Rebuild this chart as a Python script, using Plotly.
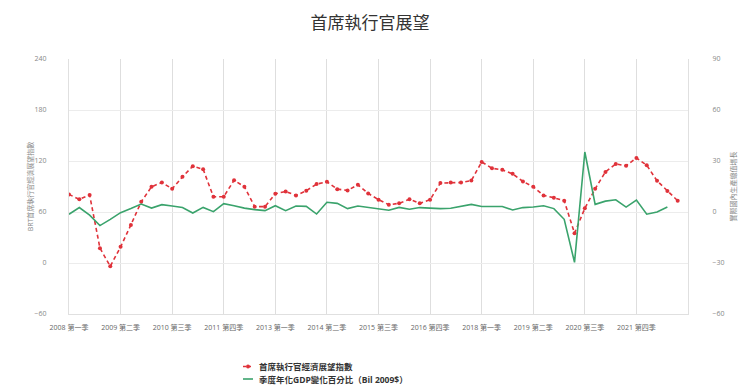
import plotly.graph_objects as go

years = list(range(2008, 2024))
quarter_names = ["第一季", "第二季", "第三季", "第四季"]
categories = [f"{y} {q}" for y in years for q in quarter_names][:61]

ceo_index = [80.7, 74.9, 79.9, 17.5, -3.9, 19.0, 44.8, 72.0, 89.7, 94.7,
             87.3, 101.4, 113.8, 110.3, 78.0, 78.0, 97.4, 89.7, 66.3, 66.3,
             81.5, 84.2, 79.5, 85.0, 92.8, 95.5, 86.9, 85.4, 92.0, 81.9,
             74.5, 68.6, 70.2, 74.9, 70.2, 74.5, 94.0, 94.7, 94.7, 97.0,
             118.9, 111.5, 109.6, 104.9, 95.9, 89.7, 79.5, 76.8, 73.3, 35.1,
             64.3, 87.3, 107.2, 116.6, 114.3, 123.6, 115.0, 96.7, 84.6, 73.3]

gdp_change = [-1.3, 2.6, -1.9, -8.0, -4.3, -0.4, 2.0, 4.7, 2.3, 4.3,
              3.5, 2.6, -0.6, 2.7, 0.2, 4.9, 3.7, 2.3, 1.4, 0.8,
              3.7, 0.8, 3.5, 3.3, -1.2, 5.7, 5.1, 2.0, 3.5, 2.6,
              1.6, 1.0, 2.7, 1.6, 2.6, 2.3, 2.0, 2.2, 3.5, 4.5,
              3.2, 3.2, 3.2, 1.2, 2.6, 2.9, 3.7, 2.0, -4.3, -29.6,
              35.3, 4.5, 6.4, 7.2, 2.9, 7.0, -1.3, 0.0, 2.9]

tick_labels = categories[0:56:5]

series_names = ["首席執行官經濟展望指數", "季度年化GDP變化百分比（Bil 2009$）"]
title_text = "首席執行官展望"
left_title = "BRT首席執行官經濟展望指數"
right_title = "實際國內生產總值增長"

FONT = "Open Sans, Noto Sans CJK TC, sans-serif"
RED = "#e0323a"
GREEN = "#3aa36c"

# plot-area geometry in pixels (for the hand-built legend)
L, R, T, B = 69, 688, 59, 314
W, H = R - L, B - T


def px(x):
    return (x - L) / W


def py(y):
    return (B - y) / H


fig = go.Figure()
fig.add_trace(go.Scatter(
    x=categories[:len(ceo_index)], y=ceo_index, name=series_names[0],
    mode="lines+markers",
    line=dict(color=RED, width=1.6, dash="4px,3px"),
    marker=dict(color=RED, size=4),
    yaxis="y",
))
fig.add_trace(go.Scatter(
    x=categories[:len(gdp_change)], y=gdp_change, name=series_names[1],
    mode="lines",
    line=dict(color=GREEN, width=1.6),
    yaxis="y2",
))

# legend (drawn by hand so it sits exactly like the reference)
legend_rows = [(series_names[0], RED, "dash", 366.5), (series_names[1], GREEN, "solid", 379)]
shapes = []
annotations = []
for name, color, dash, yrow in legend_rows:
    shapes.append(dict(type="line", xref="paper", yref="paper",
                       x0=px(243), x1=px(253), y0=py(yrow), y1=py(yrow),
                       line=dict(color=color, width=1.6, dash="3px,2px" if dash == "dash" else "solid")))
    if dash == "dash":
        shapes.append(dict(type="circle", xref="paper", yref="paper",
                           xsizemode="pixel", ysizemode="pixel",
                           xanchor=px(248), yanchor=py(yrow),
                           x0=-2, x1=2, y0=-2, y1=2,
                           fillcolor=color, line=dict(color=color, width=0)))
    annotations.append(dict(text=f"<b>{name}</b>", xref="paper", yref="paper",
                            x=px(258), y=py(yrow), xanchor="left", yanchor="middle",
                            showarrow=False, borderpad=0,
                            font=dict(size=8.5, color="#333333", family=FONT)))

fig.update_layout(
    width=740, height=389,
    margin=dict(l=L, r=740 - R, t=T, b=389 - B),
    paper_bgcolor="white", plot_bgcolor="white",
    font=dict(family=FONT, color="#666666", size=7),
    title=dict(text=title_text, x=0.5, xanchor="center", xref="container", y=0.94, yanchor="middle",
               font=dict(size=17, color="#333333", family=FONT)),
    showlegend=False,
    shapes=shapes,
    annotations=annotations,
    xaxis=dict(
        type="category", categoryorder="array", categoryarray=categories,
        range=[0, 60], tickmode="array", tickvals=tick_labels, ticktext=tick_labels,
        showgrid=True, gridcolor="#dedede", gridwidth=1,
        showline=True, linecolor="#e0e0e0", ticks="", tickangle=0,
        tickfont=dict(size=7, color="#666666"), ticklabelstandoff=7,
        zeroline=False, automargin=False,
    ),
    yaxis=dict(
        range=[-60, 240], tickmode="linear", tick0=-60, dtick=60,
        showgrid=True, gridcolor="#ececec", zeroline=False,
        showline=True, linecolor="#e0e0e0",
        title=dict(text=left_title, font=dict(size=7, color="#888888"), standoff=0),
        tickfont=dict(size=7, color="#888888"), ticklabelstandoff=20,
        automargin=False,
    ),
    yaxis2=dict(
        range=[-60, 90], tickmode="linear", tick0=-60, dtick=30,
        overlaying="y", side="right", showgrid=False, zeroline=False,
        showline=True, linecolor="#e0e0e0",
        title=dict(text=right_title, font=dict(size=7, color="#888888"), standoff=7),
        tickfont=dict(size=7, color="#888888"), ticklabelstandoff=22,
        automargin=False,
    ),
)

fig.write_html("out.html")
